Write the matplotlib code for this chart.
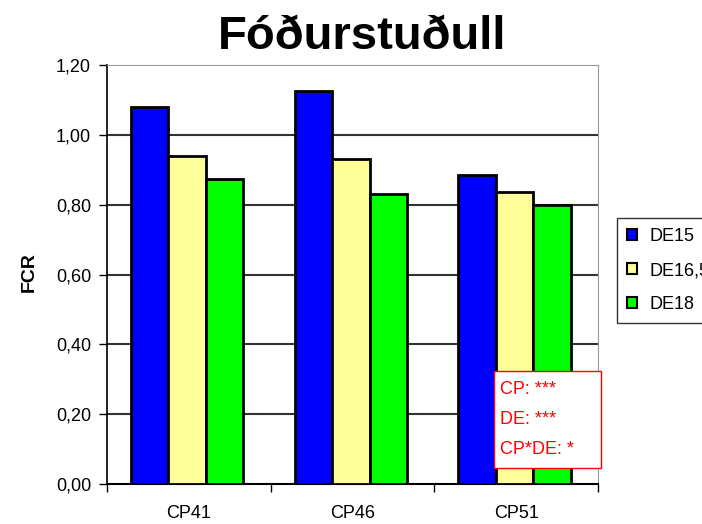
import matplotlib.pyplot as plt
import numpy as np
from matplotlib.patches import Patch, Rectangle
from matplotlib.ticker import FixedLocator

plt.rcParams['font.family'] = ['Liberation Sans', 'DejaVu Sans']

categories = ['CP41', 'CP46', 'CP51']
series = ['DE15', 'DE16,5', 'DE18']
de15 = [1.08, 1.125, 0.885]
de165 = [0.94, 0.93, 0.835]
de18 = [0.875, 0.83, 0.80]
colors = ['#0000FF', '#FFFF99', '#00FF00']
yticks = [0.0, 0.2, 0.4, 0.6, 0.8, 1.0, 1.2]
ytick_labels = ['0,00', '0,20', '0,40', '0,60', '0,80', '1,00', '1,20']
stats_text = 'CP: ***\nDE: ***\nCP*DE: *'

fig = plt.figure(figsize=(7.02, 5.24), dpi=100)
ax = fig.add_axes([0.1524, 0.0763, 0.6995, 0.7996])

x = np.arange(len(categories))
w = 0.229
for i, (vals, c) in enumerate(zip([de15, de165, de18], colors)):
    ax.bar(x + (i - 1) * w - 0.01, vals, w, color=c, edgecolor='black', linewidth=2, zorder=3)

ax.set_xlim(-0.5, 2.5)
ax.set_ylim(0, 1.2)
ax.set_yticks(yticks)
ax.set_yticklabels(ytick_labels, fontsize=13)
ax.set_xticks(x)
ax.set_xticklabels(categories, fontsize=13)
ax.tick_params(axis='x', which='major', length=0, pad=15)
ax.xaxis.set_minor_locator(FixedLocator([-0.5, 0.5, 1.5, 2.5]))
ax.tick_params(axis='x', which='minor', length=5.5, direction='out', width=1)
ax.tick_params(axis='y', length=5.5, direction='out', width=1, pad=6)

for yv in yticks[1:-1]:
    ax.axhline(yv, color='#333333', linewidth=1.5, zorder=1)

ax.spines['top'].set_color('#999999')
ax.spines['right'].set_color('#999999')
ax.spines['left'].set_linewidth(1.2)
ax.spines['bottom'].set_linewidth(1.5)

fig.text(0.041, 0.481, 'FCR', fontsize=14, fontweight='bold', rotation=90,
         ha='center', va='center')
fig.text(0.516, 0.929, 'Fóðurstuðull', fontsize=34, fontweight='bold',
         ha='center', va='center')

handles = [Patch(facecolor=c, edgecolor='black', linewidth=1.5) for c in colors]
leg = fig.legend(handles, series, loc='upper left', bbox_to_anchor=(0.879, 0.584),
                 fontsize=13, frameon=True, fancybox=False, edgecolor='black',
                 handlelength=0.55, handleheight=0.55, handletextpad=0.7,
                 labelspacing=0.95, borderpad=0.55, borderaxespad=0)
leg.get_frame().set_linewidth(1)

ax.add_patch(Rectangle((0.788, 0.038), 0.218, 0.232, transform=ax.transAxes,
                       facecolor='white', edgecolor='#FF0000', linewidth=1,
                       zorder=5, clip_on=False))
ax.text(0.800, 0.246, stats_text, transform=ax.transAxes, color='#FF0000',
        fontsize=13, linespacing=2.0, va='top', ha='left', zorder=6)

fig.savefig('out.png', dpi=100)
